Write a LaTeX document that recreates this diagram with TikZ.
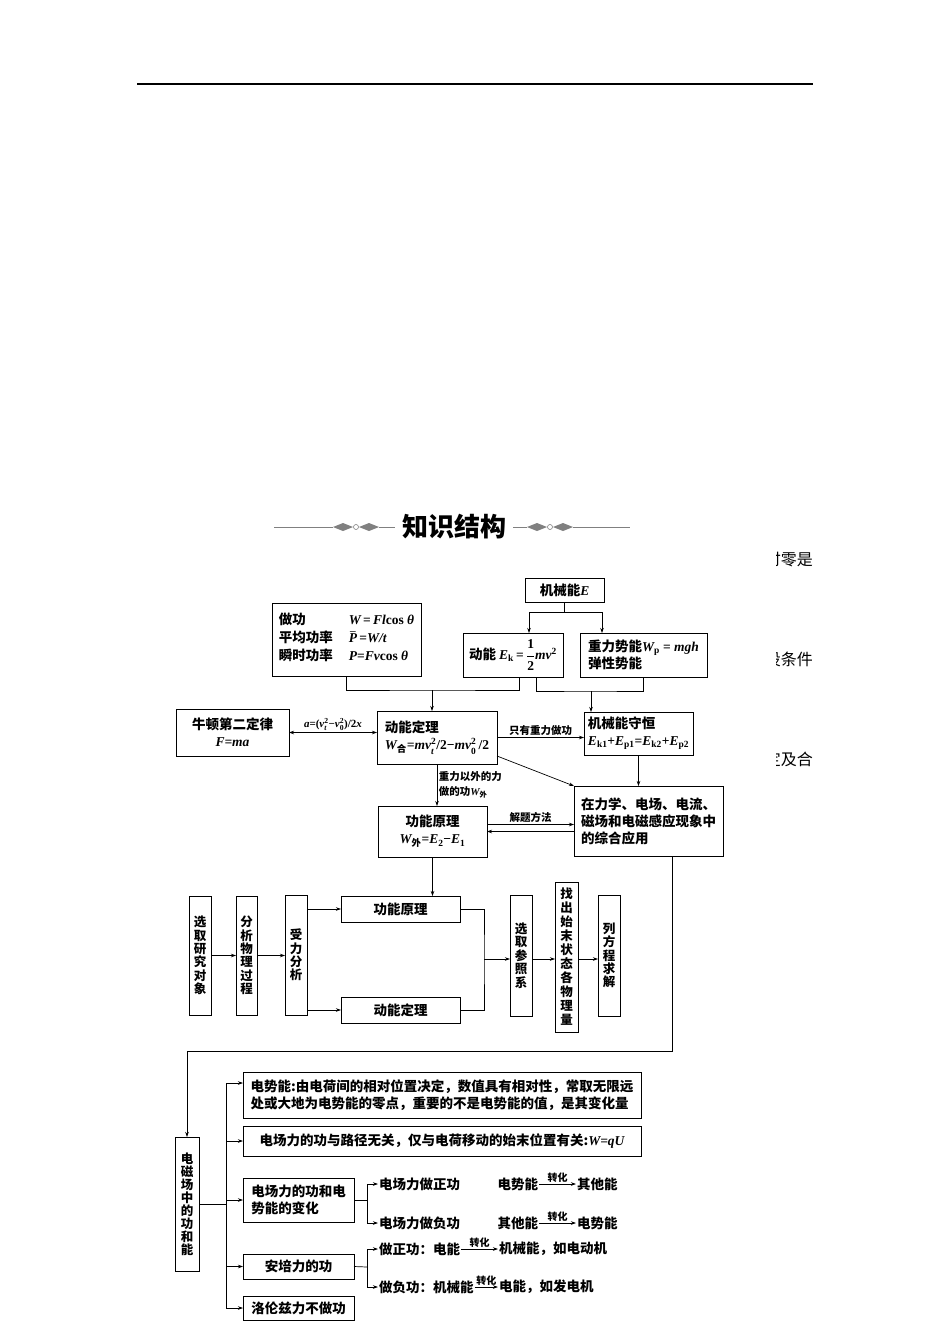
\documentclass[tikz,border=0pt]{standalone}
\usepackage{amsmath}
\usepackage{fontspec}
\setmainfont{Noto Sans CJK SC}
\newfontfamily\fmlfont{Liberation Serif}
\usetikzlibrary{arrows.meta}

% formula letters: bold italic / bold upright serif
\newcommand{\fmi}[1]{{\fmlfont\bfseries\itshape #1}}
\newcommand{\fmu}[1]{{\fmlfont\bfseries #1}}
\newcommand{\sbsp}[3]{$\text{#1}_{\text{#2}}^{\text{#3}}$}

\tikzset{
  box/.style={draw, line width=0.9pt, inner xsep=3pt, inner ysep=0pt, outer sep=0pt, anchor=north west, align=center, font=\fontsize{13.5}{17}\selectfont\bfseries\boldmath},
  vbox/.style={box, inner xsep=0pt, font=\fontsize{12.5}{13.4}\selectfont\bfseries},
  txt/.style={inner sep=1pt, outer sep=0pt, font=\fontsize{13.5}{16}\selectfont\bfseries},
  lbl/.style={inner sep=1.5pt, font=\fontsize{10.5}{15}\selectfont\bfseries},
  frag/.style={inner sep=0pt, anchor=east, font=\fontsize{16}{18}\selectfont},
  arr/.style={-{Stealth[length=5pt,width=3.5pt]}, line width=0.7pt},
  darr/.style={{Stealth[length=5pt,width=3.5pt]}-{Stealth[length=5pt,width=3.5pt]}, line width=0.7pt},
  link/.style={line width=0.7pt},
}

\begin{document}
\begin{tikzpicture}[x=1pt, y=-1pt]
  \fill[white] (0,0) rectangle (950,1344);
  \useasboundingbox (0,0) rectangle (950,1344);

  % page rule and title
  \draw[line width=1.5pt] (137,84) -- (813,84);
  \node[font=\fontsize{26}{30}\selectfont\bfseries] (title) at (454,527) {知识结构};
  \draw[line width=0.6pt, gray] (274,527) -- (333,527);
  \fill[gray] (333,527) -- (343,523) -- (353,527) -- (343,531) -- cycle;
  \draw[line width=0.6pt, gray] (356,527) circle (2.5);
  \fill[gray] (359,527) -- (369,523) -- (379,527) -- (369,531) -- cycle;
  \draw[line width=0.6pt, gray] (379,527) -- (395,527);
  \draw[line width=0.6pt, gray] (513,527) -- (527,527);
  \fill[gray] (527,527) -- (537,523) -- (547,527) -- (537,531) -- cycle;
  \draw[line width=0.6pt, gray] (550,527) circle (2.5);
  \fill[gray] (553,527) -- (563,523) -- (573,527) -- (563,531) -- cycle;
  \draw[line width=0.6pt, gray] (573,527) -- (630,527);

  % text cut off at the right edge
  \begin{scope}
    \clip (776,540) rectangle (816,780);
    \node[frag] (fa) at (813,560) {时零是};
    \node[frag] (fb) at (813,659) {设条件};
    \node[frag] (fc) at (813,759) {定及合};
  \end{scope}

  % upper chart
  \node[box, minimum width=79pt, minimum height=24pt] (mech) at (525,578) {机械能\fmi{E}};
  \node[box, minimum width=149pt, minimum height=73pt] (work) at (272,603)
    {\begin{tabular}{@{}l@{\hspace{16pt}}l@{}}
      做功 & \fmi{W}\fmu{\,=\,}\fmi{Fl}\fmu{cos }\fmi{θ}\\[1pt]
      平均功率 & $\bar{\text{\fmi{P}}}$\fmu{\,=}\fmi{W/t}\\[1pt]
      瞬时功率 & \fmi{P}\fmu{=}\fmi{Fv}\fmu{cos }\fmi{θ}
    \end{tabular}};
  \node[box, minimum width=100pt, minimum height=44pt] (kin) at (463,633)
    {动能 \fmi{E}\textsubscript{\fmu{k}}\fmu{\,=\,}$\dfrac{\text{\fmu{1}}}{\text{\fmu{2}}}$\fmi{mv}\textsuperscript{\fmu{2}}};
  \node[box, minimum width=127pt, minimum height=44pt, align=left] (pot) at (580,633)
    {重力势能\fmi{W}\textsubscript{\fmu{p}}\fmu{ = }\fmi{mgh}\\弹性势能};

  \node[box, minimum width=113pt, minimum height=47pt] (newton) at (176,709) {牛顿第二定律\\\fmi{F=ma}};
  \node[box, minimum width=120pt, minimum height=53pt, align=left] (thm) at (377,711)
    {动能定理\\\fmi{W}\textsubscript{合}\fmi{=mv}\sbsp{\fmi{}}{\fmi{t}}{\fmu{2}}\fmu{/2−}\fmi{mv}\sbsp{\fmi{}}{\fmu{0}}{\fmu{2}}\fmu{\,/2}};
  \node[box, minimum width=109pt, minimum height=43pt, align=left] (cons) at (584,712)
    {机械能守恒\\\fmi{E}\textsubscript{\fmu{k1}}\fmu{+}\fmi{E}\textsubscript{\fmu{p1}}\fmu{=}\fmi{E}\textsubscript{\fmu{k2}}\fmu{+}\fmi{E}\textsubscript{\fmu{p2}}};
  \node[box, minimum width=149pt, minimum height=70pt, align=left] (app) at (574,786) {在力学、电场、电流、\\磁场和电磁感应现象中\\的综合应用};
  \node[box, minimum width=109pt, minimum height=51pt] (wep) at (378,806)
    {功能原理\\\fmi{W}\textsubscript{外}\fmu{=}\fmi{E}\textsubscript{\fmu{2}}\fmu{−}\fmi{E}\textsubscript{\fmu{1}}};

  \draw[link] (mech.south) -- ++(0,10) coordinate (m0);
  \coordinate (mk) at (529,612);
  \coordinate (mp) at (602,612);
  \draw[link] (mk) -- (mp);
  \draw[arr] (mk) -- (mk |- kin.north);
  \draw[arr] (mp) -- (mp |- pot.north);

  \coordinate (j1) at (432,690);
  \coordinate (j2) at (591,691);
  \draw[link] (work.south) |- (j1) -| ([xshift=56pt]kin.south west);
  \draw[link] ([xshift=73pt]kin.south west) |- (j2) -| (pot.south);
  \draw[arr] (j1) -- (j1 |- thm.north);
  \draw[arr] (j2) -- (j2 |- cons.north);

  \draw[darr] (newton.east) -- (newton.east -| thm.west)
    node[lbl, midway, above, font=\fontsize{11}{13}\selectfont]
    {\fmi{a}\fmu{=(}\sbsp{\fmi{v}}{\fmi{t}}{\fmu{2}}\fmu{−}\sbsp{\fmi{v}}{\fmu{0}}{\fmu{2}}\fmu{)/2}\fmi{x}};
  \draw[arr] (thm.east) -- (thm.east -| cons.west)
    node[lbl, midway, above] {只有重力做功};
  \draw[arr] ([yshift=8pt]thm.south east) -- (app.north west);
  \draw[arr] (cons.south) -- (cons.south |- app.north);
  \draw[arr] (thm.south) -- (thm.south |- wep.north)
    node[lbl, midway, right, align=left] {重力以外的力\\做的功\fmi{W}\textsubscript{外}};
  \draw[arr] ([yshift=7pt]wep.east) -- ([yshift=7pt]wep.east -| app.west)
    node[lbl, midway, above] {解题方法};
  \draw[arr] (wep.east -| app.west) -- (wep.east);

  % solving steps
  \node[vbox, minimum width=22pt, minimum height=119pt] (s1) at (189,896) {选\\取\\研\\究\\对\\象};
  \node[vbox, minimum width=21pt, minimum height=119pt] (s2) at (236,896) {分\\析\\物\\理\\过\\程};
  \node[vbox, minimum width=22pt, minimum height=120pt] (s3) at (285,895) {受\\力\\分\\析};
  \node[box, minimum width=119pt, minimum height=26pt] (wep2) at (341,896) {功能原理};
  \node[box, minimum width=119pt, minimum height=26pt] (thm2) at (341,997) {动能定理};
  \node[vbox, minimum width=22pt, minimum height=121pt] (s4) at (510,895) {选\\取\\参\\照\\系};
  \node[vbox, minimum width=23pt, minimum height=150pt, font=\fontsize{12.5}{14}\selectfont\bfseries] (s5) at (555,882) {找\\出\\始\\末\\状\\态\\各\\物\\理\\量};
  \node[vbox, minimum width=22pt, minimum height=121pt] (s6) at (598,895) {列\\方\\程\\求\\解};

  \draw[arr] (wep.south) -- (wep.south |- wep2.north);
  \draw[arr] (s1.east) -- (s1.east -| s2.west);
  \draw[arr] (s2.east) -- (s2.east -| s3.west);
  \draw[arr] (s3.east |- wep2.west) -- (wep2.west);
  \draw[arr] (s3.east |- thm2.west) -- (thm2.west);
  \coordinate (k) at (484,959);
  \draw[link] (wep2.east) -| (k) |- (thm2.east);
  \draw[arr] (k) -- (k -| s4.west);
  \draw[arr] (k -| s4.east) -- (k -| s5.west);
  \draw[arr] (k -| s5.east) -- (k -| s6.west);

  % lower chart
  \node[vbox, minimum width=24pt, minimum height=134pt, font=\fontsize{12.5}{13}\selectfont\bfseries] (em) at (175,1137) {电\\磁\\场\\中\\的\\功\\和\\能};
  \node[box, minimum width=398pt, minimum height=46pt, align=left] (e1) at (243,1072)
    {电势能:由电荷间的相对位置决定，数值具有相对性，常取无限远\\处或大地为电势能的零点，重要的不是电势能的值，是其变化量};
  \node[box, minimum width=398pt, minimum height=30pt] (e2) at (243,1126)
    {电场力的功与路径无关，仅与电荷移动的始末位置有关:\fmi{W=qU}};
  \node[box, minimum width=111pt, minimum height=44pt, align=left] (e3) at (243,1178) {电场力的功和电\\势能的变化};
  \node[box, minimum width=111pt, minimum height=25pt] (e4) at (243,1254) {安培力的功};
  \node[box, minimum width=111pt, minimum height=24pt] (e5) at (243,1296) {洛伦兹力不做功};

  \draw[arr] ([xshift=-51pt]app.south east) |- ([yshift=86pt]em.north) -- (em.north);
  \coordinate (bus) at (226,1204);
  \draw[link] (em.east) -- (bus);
  \draw[arr] (bus) |- ([yshift=12pt]e1.west);
  \draw[arr] (bus) |- (e2.west);
  \draw[arr] (bus) |- (e3.west);
  \draw[arr] (bus) |- (e4.west);
  \draw[arr] (bus) |- (e5.west);

  \node[txt, anchor=west] (t1) at (378,1184) {电场力做正功};
  \node[txt, anchor=west] (t2) at (378,1223) {电场力做负功};
  \node[txt, anchor=west] (t3) at (378,1249) {做正功：电能};
  \node[txt, anchor=west] (t4) at (378,1287) {做负功：机械能};
  \node[txt, anchor=east] (c1a) at (539,1184) {电势能};
  \node[txt, anchor=west] (c1b) at (576,1184) {其他能};
  \node[txt, anchor=east] (c2a) at (539,1223) {其他能};
  \node[txt, anchor=west] (c2b) at (576,1223) {电势能};
  \node[txt, anchor=west] (t3b) at (498,1249) {机械能，如电动机};
  \node[txt, anchor=west] (t4b) at (498,1287) {电能，如发电机};

  \coordinate (b3) at (367,1200);
  \coordinate (b4) at (367,1267);
  \draw[link] (e3.east) -- (b3);
  \draw[arr] (b3) |- (t1.west);
  \draw[arr] (b3) |- (t2.west);
  \draw[link] (e4.east) -- (b4);
  \draw[arr] (b4) |- (t3.west);
  \draw[arr] (b4) |- (t4.west);

  \draw[arr] (c1a.east) -- (c1b.west) node[lbl, midway, above, font=\fontsize{10}{12}\selectfont\bfseries] {转化};
  \draw[arr] (c2a.east) -- (c2b.west) node[lbl, midway, above, font=\fontsize{10}{12}\selectfont\bfseries] {转化};
  \draw[arr] (t3.east) -- (t3b.west) node[lbl, midway, above, font=\fontsize{10}{12}\selectfont\bfseries] {转化};
  \draw[arr] (t4.east) -- (t4b.west) node[lbl, midway, above, font=\fontsize{10}{12}\selectfont\bfseries] {转化};
\end{tikzpicture}
\end{document}
